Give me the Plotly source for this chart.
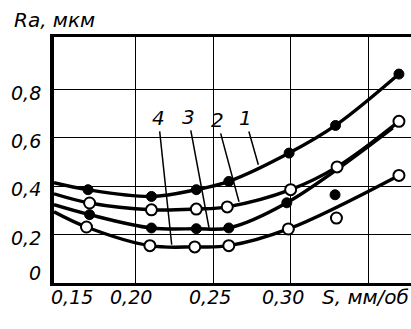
import plotly.graph_objects as go

# ---- data ----
c1_x = [0.147, 0.169, 0.210, 0.239, 0.260, 0.299, 0.329, 0.370]
c1_y = [0.414, 0.385, 0.357, 0.385, 0.419, 0.536, 0.650, 0.862]
c2_x = [0.147, 0.170, 0.210, 0.239, 0.259, 0.300, 0.330, 0.370]
c2_y = [0.368, 0.330, 0.302, 0.305, 0.314, 0.385, 0.479, 0.667]
c3_x = [0.147, 0.170, 0.210, 0.239, 0.260, 0.2975, 0.366]
c3_y = [0.323, 0.282, 0.227, 0.224, 0.227, 0.331, 0.640]
c4_x = [0.147, 0.168, 0.209, 0.238, 0.260, 0.2985, 0.370]
c4_y = [0.294, 0.231, 0.154, 0.149, 0.154, 0.223, 0.444]
# measured points (markers); the first entry of each curve is the axis start only
c1_mx, c1_my = c1_x[1:], c1_y[1:]
c2_mx, c2_my = c2_x[1:], c2_y[1:]
c3_mx, c3_my = c3_x[1:-1], c3_y[1:-1]
c4_mx, c4_my = c4_x[1:], c4_y[1:]
# stray measured points
extra_filled_x, extra_filled_y = [0.3287], [0.364]
extra_open_x, extra_open_y = [0.3296], [0.268]

x_ticks = [0.15, 0.20, 0.25, 0.30]
x_tick_text = ["0,15", "0,20", "0,25", "0,30"]
y_ticks = [0.0, 0.2, 0.4, 0.6, 0.8]
y_tick_text = ["0", "0,2", "0,4", "0,6", "0,8"]

curve_labels = ["4", "3", "2", "1"]
label_x = [0.2144, 0.2338, 0.2524, 0.2705]
label_y = [0.681, 0.685, 0.673, 0.681]
point_x = [0.2231, 0.2472, 0.2666, 0.2791]
point_y = [0.158, 0.228, 0.335, 0.488]

FONT = "DejaVu Sans"
fig = go.Figure()

for xs, ys in [(c1_x, c1_y), (c2_x, c2_y), (c3_x, c3_y), (c4_x, c4_y)]:
    fig.add_trace(go.Scatter(x=xs, y=ys, mode="lines",
                             line=dict(color="black", width=3.4, shape="spline", smoothing=1.0),
                             hoverinfo="skip", showlegend=False))

filled = dict(symbol="circle", size=10, color="black", line=dict(color="black", width=1))
opened = dict(symbol="circle", size=11, color="white", line=dict(color="black", width=2))
for mx, my, mk in [(c1_mx, c1_my, filled), (c2_mx, c2_my, opened),
                   (c3_mx, c3_my, filled), (c4_mx, c4_my, opened),
                   (extra_filled_x, extra_filled_y, filled),
                   (extra_open_x, extra_open_y, opened)]:
    fig.add_trace(go.Scatter(x=mx, y=my, mode="markers", marker=mk,
                             showlegend=False, cliponaxis=False))

ann = []
for t, lx, ly, px, py in zip(curve_labels, label_x, label_y, point_x, point_y):
    ann.append(dict(x=px, y=py, ax=lx, ay=ly, axref="x", ayref="y", xref="x", yref="y",
                    text="<i>" + t + "</i>", showarrow=True, arrowhead=0, arrowwidth=1.5,
                    arrowcolor="black", standoff=0, startstandoff=0,
                    font=dict(family=FONT, size=20, color="black")))
tick_label_x = [0.1586, 0.1968, 0.2479, 0.2951]
for t, tx in zip(x_tick_text, tick_label_x):
    ann.append(dict(x=tx, y=-0.0588, xref="x", yref="paper", text="<i>" + t + "</i>",
                    showarrow=False, xanchor="center", yanchor="middle",
                    font=dict(family=FONT, size=19, color="black")))
for t, v in zip(y_tick_text, y_ticks):
    yy = v - 0.014 if v > 0 else 0.043
    ann.append(dict(x=-0.03, y=yy, xref="paper", yref="y", text="<i>" + t + "</i>",
                    showarrow=False, xanchor="right", yanchor="middle",
                    font=dict(family=FONT, size=19, color="black")))
ann.append(dict(x=1.0, y=-0.0588, xref="paper", yref="paper", text="<i>S, мм/об</i>",
                showarrow=False, xanchor="right", yanchor="middle",
                font=dict(family=FONT, size=20, color="black")))
ann.append(dict(x=-0.118, y=1.069, xref="paper", yref="paper", text="<i>Ra, мкм</i>",
                showarrow=False, xanchor="left", yanchor="middle",
                font=dict(family=FONT, size=20, color="black")))

fig.update_layout(
    width=411, height=329,
    margin=dict(l=54, r=0, t=37, b=46),
    paper_bgcolor="white", plot_bgcolor="white",
    annotations=ann,
    xaxis=dict(range=[0.147, 0.3778], tickvals=[0.20, 0.25, 0.30, 0.35],
               showticklabels=False, ticks="", showgrid=True, gridcolor="black",
               gridwidth=1.2, zeroline=False, showline=True, linecolor="black",
               linewidth=2.5, mirror=True, fixedrange=True),
    yaxis=dict(range=[0, 1.015], tickvals=[0.2, 0.4, 0.6, 0.8],
               showticklabels=False, ticks="", showgrid=True, gridcolor="black",
               gridwidth=1.2, zeroline=False, showline=True, linecolor="black",
               linewidth=3.5, mirror=False, fixedrange=True),
)

fig.write_html("out.html")
